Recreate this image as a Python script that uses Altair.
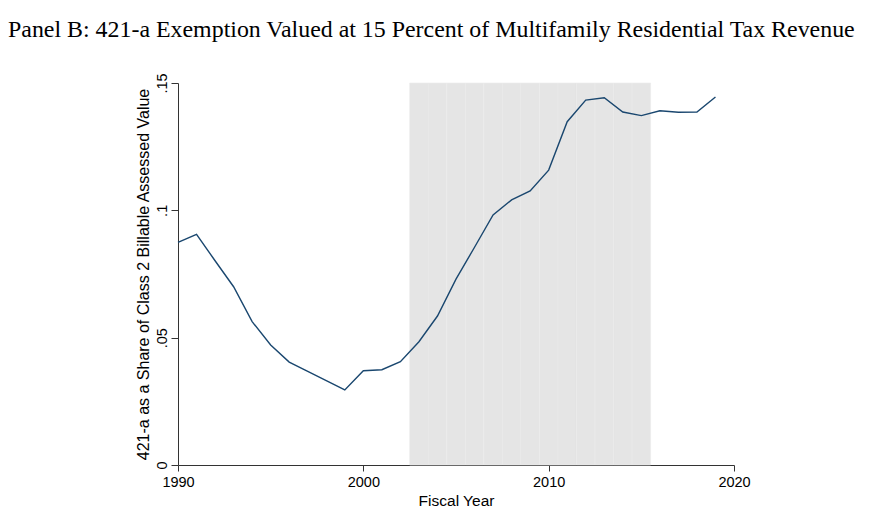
import altair as alt
import pandas as pd

years = list(range(1990, 2020))
share = [0.0874, 0.0906, 0.0802, 0.0700, 0.0563, 0.0471, 0.0404, 0.0368, 0.0331, 0.0295,
         0.0370, 0.0374, 0.0406, 0.0484, 0.0585, 0.0730, 0.0855, 0.0982, 0.1041, 0.1076,
         0.1158, 0.1348, 0.1433, 0.1442, 0.1386, 0.1372, 0.1391, 0.1385, 0.1386, 0.1445]

shade_years = list(range(2003, 2016))
x_ticks = [1990, 2000, 2010, 2020]
y_ticks = [0, 0.05, 0.1, 0.15]

line_df = pd.DataFrame({"year": years, "share": share})
shade_df = pd.DataFrame({"start": [y - 0.5 for y in shade_years],
                         "end": [y + 0.5 for y in shade_years],
                         "top": [0.15] * len(shade_years)})

xscale = alt.Scale(domain=[1990, 2020], nice=False, zero=False)
yscale = alt.Scale(domain=[0, 0.15], nice=False)

shade = alt.Chart(shade_df).mark_rect(color="#e5e5e5", stroke="#ebebeb", strokeWidth=0.6).encode(
    x=alt.X("start:Q", scale=xscale),
    x2="end:Q",
    y=alt.Y("top:Q", scale=yscale),
    y2=alt.datum(0),
)

line = alt.Chart(line_df).mark_line(color="#1a476f", strokeWidth=1.4).encode(
    x=alt.X("year:Q", scale=xscale,
            axis=alt.Axis(values=x_ticks, title="Fiscal Year", format="d",
                          tickSize=6, labelPadding=4, titlePadding=5,
                          labelFlush=False, titleFontSize=15.5)),
    y=alt.Y("share:Q", scale=yscale,
            axis=alt.Axis(values=y_ticks,
                          title="421-a as a Share of Class 2 Billable Assessed Value",
                          labelExpr="datum.value == 0 ? '0' : slice(format(datum.value, '.2~f'), 1)",
                          labelAngle=-90, labelAlign="center", labelBaseline="bottom",
                          tickSize=7, labelPadding=2, titlePadding=3,
                          labelFlush=False, titleFontSize=16)),
)

chart = (shade + line).properties(
    width=556,
    height=382,
    autosize=alt.AutoSizeParams(type="none"),
    padding={"left": 170, "top": 75, "right": 140, "bottom": 45},
    title=alt.TitleParams(
        "Panel B: 421-a Exemption Valued at 15 Percent of Multifamily Residential Tax Revenue",
        font="Liberation Serif", fontSize=23.9, fontWeight="normal", color="black",
        anchor="start", frame="group", dx=-170, offset=31,
    ),
).configure_view(stroke=None).configure_axis(
    grid=False,
    domainColor="#333333",
    tickColor="#333333",
    labelFont="Liberation Sans",
    titleFont="Liberation Sans",
    labelFontSize=14.5,
    labelColor="black",
    titleColor="black",
    titleFontWeight="normal",
)

chart.save("out.html", embed_options={"renderer": "svg", "actions": False})
